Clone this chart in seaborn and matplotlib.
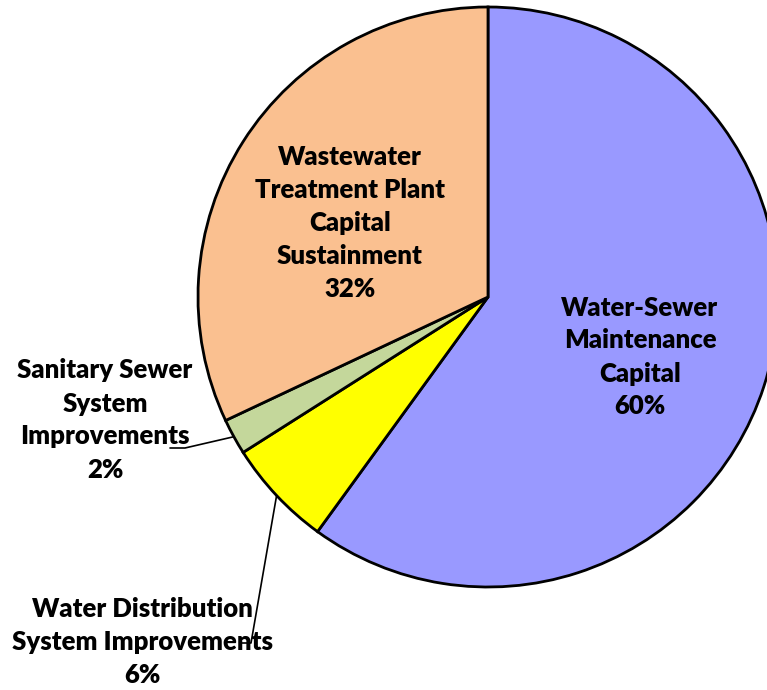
import matplotlib
matplotlib.use("Agg")
import matplotlib.pyplot as plt
import seaborn as sns
import numpy as np

sns.set_theme(style="white")
plt.rcParams['font.family'] = ['Lato', 'DejaVu Sans']

categories = ["Water-Sewer\nMaintenance\nCapital",
              "Water Distribution\nSystem Improvements",
              "Sanitary Sewer\nSystem\nImprovements",
              "Wastewater\nTreatment Plant\nCapital\nSustainment"]
values = [60, 6, 2, 32]
colors = ["#9999FF", "#FFFF00", "#C4D79B", "#FAC090"]

W, H = 767, 690
fig = plt.figure(figsize=(W / 100, H / 100), dpi=100)
ax = fig.add_axes([0, 0, 1, 1])

cx, cy, r = 488, H - 297, 290
wedges, _ = ax.pie(values, colors=colors, startangle=90, counterclock=False,
                   center=(cx, cy), radius=r, frame=True,
                   wedgeprops=dict(edgecolor="black", linewidth=2))
ax.set_xlim(0, W)
ax.set_ylim(0, H)
ax.axis("off")

# label positions (pixel coords, y from top)
label_pos = [(640, 357), (142, 642), (105, 420), (350, 223)]
# leader line elbow points (y from top), None = no leader
elbows = [None, [(251, 643), (240, 643)], [(185, 448), (170, 448)], None]

for w, lab, v, (lx, ly), el in zip(wedges, categories, values, label_pos, elbows):
    ax.text(lx, H - ly, f"{lab}\n{v}%", ha="center", va="center",
            fontsize=18.5, fontweight="heavy", color="black", linespacing=1.45)
    if el is not None:
        ang = np.deg2rad((w.theta1 + w.theta2) / 2)
        sx, sy = cx + r * np.cos(ang), cy + r * np.sin(ang)
        xs = [sx] + [p[0] for p in el]
        ys = [sy] + [H - p[1] for p in el]
        ax.plot(xs, ys, color="black", linewidth=1.2)

fig.savefig("out.png", dpi=100, facecolor="white")
